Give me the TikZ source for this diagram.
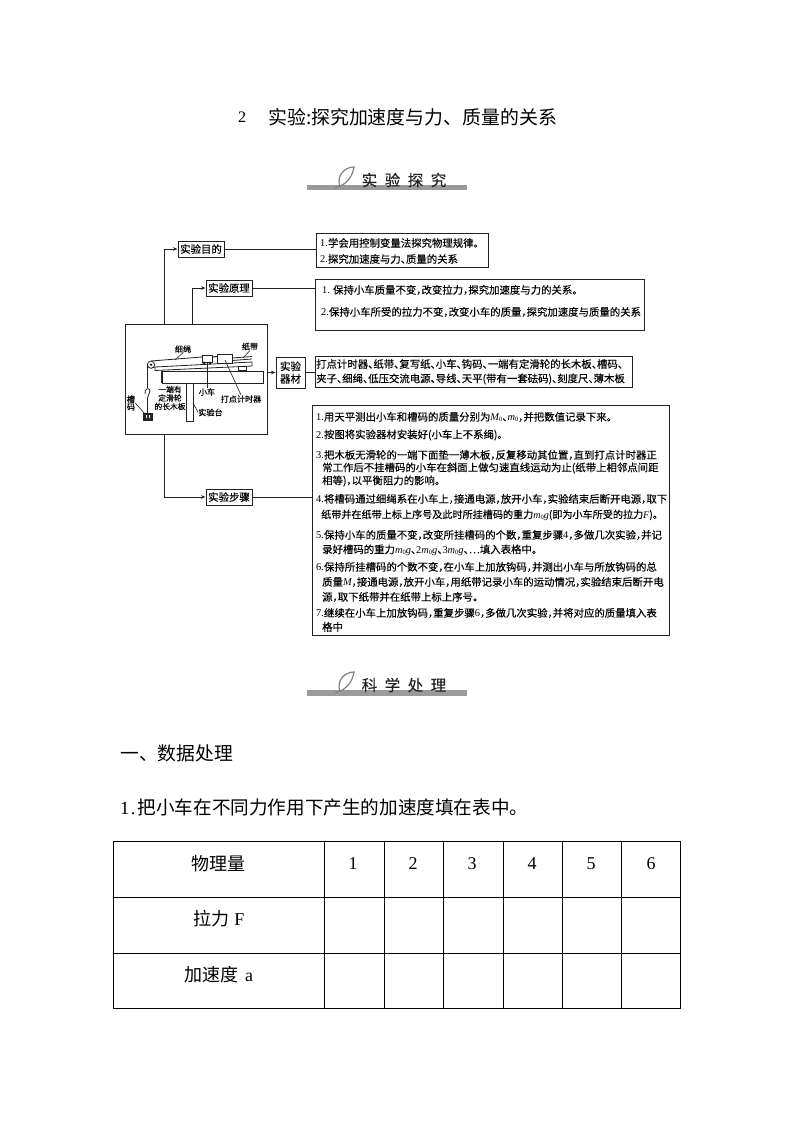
\documentclass[tikz,border=0pt]{standalone}
\usepackage{fontspec}
\usetikzlibrary{arrows.meta}
\setmainfont{Noto Sans CJK SC}
\newfontfamily\flowf{Noto Sans CJK SC}[RawFeature=+halt,FakeBold=0.15]
\newfontfamily\banf{Noto Sans CJK SC}[FakeBold=0.25]
\newfontfamily\latf{Liberation Serif}
\newcommand{\lt}[1]{{\latf #1}}
\newcommand{\vr}[1]{{\latf\itshape #1}}
\newcommand{\nought}{\raisebox{-1.2pt}{\latf\fontsize{6.5}{6.5}\selectfont 0}}
\newcommand{\fs}[1]{\fontsize{#1}{#1}\selectfont}
\definecolor{ink}{HTML}{222222}
\definecolor{barg}{HTML}{9A9A9A}
\tikzset{
  x=1pt,y=-1pt,
  flowbox/.style={draw=ink,line width=1pt,fill=white,inner sep=0pt,font=\flowf\fs{10.4}},
  tbox/.style={draw=ink,line width=1pt,fill=white,inner sep=0pt},
  line/.style={draw=ink,line width=0.9pt},
  arr/.style={line,-{Stealth[length=4.5pt,width=3.5pt]}},
  lbl/.style={anchor=west,inner sep=0pt,font=\flowf\fs{10.4},text=black},
  tiny/.style={inner sep=0pt,font=\flowf\fs{8.1},align=center,text=black},
  lead/.style={draw=ink,line width=0.6pt},
  app/.style={draw=ink,line width=0.8pt},
  bar/.style={fill=barg,draw=none},
  leaf/.style={draw=gray,line width=1.2pt,fill=white},
  bantxt/.style={inner sep=0pt,font=\banf\fs{15.5},text=ink},
  cell/.style={inner sep=0pt,font=\fs{17.6},text=black},
  grid/.style={draw=black,line width=0.7pt},
  head/.style={anchor=west,inner sep=0pt,text=black}
}
\begin{document}
\begin{tikzpicture}
\useasboundingbox (0,0) rectangle (794,1123);
\fill[white] (0,0) rectangle (794,1123);

% title
\node[head,font=\latf\fs{16}] (tn) at (238,117) {2};
\node[head,font=\fs{18.9}] (tt) at (268,117) {实验:探究加速度与力、质量的关系};

% banner 1
\fill[bar] (307,185) rectangle (467,190.5);
\draw[leaf] (335,188) .. controls (343,186) and (352,180) .. (354,167) .. controls (345,167) and (336,175) .. (340,187);
\node[bantxt] (b1) at (404,180) {实\hspace{7.5pt}验\hspace{7.5pt}探\hspace{7.5pt}究};

% flow boxes
\node[flowbox,minimum width=46pt,minimum height=16pt] (goal) at (201,249) {实验目的};
\node[flowbox,minimum width=46pt,minimum height=16pt] (prin) at (229,288) {实验原理};
\node[flowbox,minimum width=46pt,minimum height=16pt] (step) at (229,497) {实验步骤};
\node[flowbox,minimum width=29pt,minimum height=31pt,align=center] (equip) at (290.5,372.5) {\fs{10.5}实验\\[2pt]\fs{10.5}器材};
\node[tbox,minimum width=142pt,minimum height=110pt] (img) at (196,379) {};
\node[tbox,minimum width=172pt,minimum height=33pt] (bx1) at (402,250.5) {};
\node[tbox,minimum width=329pt,minimum height=51pt] (bx2) at (479.5,304.5) {};
\node[tbox,minimum width=317pt,minimum height=31pt] (bx3) at (473.5,371.5) {};
\node[tbox,minimum width=357pt,minimum height=230pt] (bx4) at (490.5,520) {};

% connectors
\draw[arr] ([xshift=40pt]img.north west) |- (goal.west);
\draw[arr] ([xshift=68pt]img.north west) |- (prin.west);
\draw[arr] ([xshift=40pt]img.south west) |- (step.west);
\draw[arr] (img.east |- equip.west) -- (equip.west);
\draw[line] (goal.east) -- (goal.east -| bx1.west);
\draw[line] (prin.east) -- (prin.east -| bx2.west);
\draw[line] (equip.east) -- (equip.east -| bx3.west);
\draw[line] (step.east) -- (step.east -| bx4.west);

% box texts
\node[lbl] (a1) at (320,243) {\lt{1.}学会用控制变量法探究物理规律。};
\node[lbl] (a2) at (320,259) {\lt{2.}探究加速度与力、质量的关系};
\node[lbl] (p1) at (322,290) {\lt{1.} 保持小车质量不变，改变拉力，探究加速度与力的关系。};
\node[lbl] (p2) at (321,312) {\lt{2.}保持小车所受的拉力不变，改变小车的质量，探究加速度与质量的关系};
\node[lbl] (e1) at (316,364) {打点计时器、纸带、复写纸、小车、钩码、一端有定滑轮的长木板、槽码、};
\node[lbl] (e2) at (316,379) {夹子、细绳、低压交流电源、导线、天平(带有一套砝码)、刻度尺、薄木板};
\node[lbl] (s1) at (316,417) {\lt{1.}用天平测出小车和槽码的质量分别为\vr{M}\nought、\vr{m}\nought，并把数值记录下来。};
\node[lbl] (s2) at (316,435) {\lt{2.}按图将实验器材安装好(小车上不系绳)。};
\node[lbl] (s3) at (316,455) {\lt{3.}把木板无滑轮的一端下面垫一薄木板，反复移动其位置，直到打点计时器正};
\node[lbl] (s3b) at (322,468) {常工作后不挂槽码的小车在斜面上做匀速直线运动为止(纸带上相邻点间距};
\node[lbl] (s3c) at (322,481) {相等)，以平衡阻力的影响。};
\node[lbl] (s4) at (316,499) {\lt{4.}将槽码通过细绳系在小车上，接通电源，放开小车，实验结束后断开电源，取下};
\node[lbl,font=\flowf\fs{10.1}] (s4b) at (321,515) {纸带并在纸带上标上序号及此时所挂槽码的重力\vr{m}\nought\vr{g}(即为小车所受的拉力\vr{F})。};
\node[lbl] (s5) at (316,535) {\lt{5.}保持小车的质量不变，改变所挂槽码的个数，重复步骤\lt{4}，多做几次实验，并记};
\node[lbl] (s5b) at (322,550) {录好槽码的重力\vr{m}\nought\vr{g}、\lt{2}\vr{m}\nought\vr{g}、\lt{3}\vr{m}\nought\vr{g}、…填入表格中。};
\node[lbl] (s6) at (316,567) {\lt{6.}保持所挂槽码的个数不变，在小车上加放钩码，并测出小车与所放钩码的总};
\node[lbl] (s6b) at (322,582) {质量\vr{M}，接通电源，放开小车，用纸带记录小车的运动情况，实验结束后断开电};
\node[lbl] (s6c) at (322,597) {源，取下纸带并在纸带上标上序号。};
\node[lbl] (s7) at (316,613) {\lt{7.}继续在小车上加放钩码，重复步骤\lt{6}，多做几次实验，并将对应的质量填入表};
\node[lbl] (s7b) at (322,627) {格中};

% apparatus
\draw[app] (162,371) rectangle (263,383);
\draw[app] (186,383) rectangle (193,421);
\draw[app] (155,367) -- (252,362) -- (252,366) -- (155,370.5) -- cycle;
\draw[app] (238,366.5) rectangle (246,370.5);
\draw[app] (151,361) -- (202,357);
\draw[app,line width=1pt] (212,357) -- (217,356.5);
\draw[app] (232,358) -- (252,356.5);
\draw[app] (232,360.5) -- (252,359);
\draw[app,fill=white] (202,355) rectangle (212,362);
\draw[app,fill=ink] (204,363) circle (1pt) (210,363) circle (1pt);
\draw[app,fill=white] (217,354) rectangle (232,363);
\draw[app] (155,367) -- (151,368);
\draw[app,fill=white] (151,364.7) circle (3.6pt);
\fill[ink] (151,364.7) circle (1.3pt);
\draw[app] (147.5,365) -- (147.5,388);
\draw[app] (145,394) .. controls (144,388) and (150,387) .. (150,391) .. controls (150,394) and (147.5,395) .. (147.5,398) -- (147.5,413);
\draw[app,fill=ink] (143.5,413) rectangle (152,420);
\fill[white] (146,415) rectangle (147,418) (149,415) rectangle (150,418);

% apparatus labels
\node[tiny] (rope) at (183,349) {细绳};
\node[tiny] (tape) at (250,346.5) {纸带};
\node[tiny,font=\flowf\fs{7.8}] (board) at (170,398) {一端有\\[0.7pt]定滑轮\\[0.7pt]的长木板};
\node[tiny] (cart) at (207,392) {小车};
\node[tiny] (timer) at (241,399) {打点计时器};
\node[tiny] (stage) at (210.5,412.5) {实验台};
\node[tiny] (code) at (131,403) {槽\\[-0.5pt]码};
\coordinate (rp) at (175,360);
\coordinate (tp) at (243,358);
\coordinate (bp) at (161,371);
\coordinate (bq) at (161,383);
\coordinate (cp) at (207,362);
\coordinate (tm) at (225,360);
\coordinate (sp) at (193,403);
\coordinate (wp) at (145,414);
\draw[lead] (rope.south) -- (rp);
\draw[lead] (tape.south) -- (tp);
\draw[lead] (bp) -- (bq);
\draw[lead] (cp) -- (cart.north);
\draw[lead] (tm) -- (timer.north);
\draw[lead] (sp) -- (stage.west);
\draw[lead] (code.east) -- (wp);

% banner 2
\fill[bar] (307,690) rectangle (467,695.5);
\draw[leaf] (335,693) .. controls (343,691) and (352,685) .. (354,672) .. controls (345,672) and (336,680) .. (340,692);
\node[bantxt] (b2) at (404,685) {科\hspace{7.5pt}学\hspace{7.5pt}处\hspace{7.5pt}理};

% section text
\node[head,font=\fs{18.8}] (h1) at (120,753) {一、数据处理};
\node[head,font=\fs{18.6}] (h2) at (120,807) {\makebox[17.5pt][l]{\lt{1\hspace{1.5pt}.}}把小车在不同力作用下产生的加速度填在表中。};

% table
\draw[grid] (113,841) rectangle (680,1008);
\draw[grid] (113,897) -- (680,897) (113,953) -- (680,953);
\foreach \x in {324,384,443,503,562,621} \draw[grid] (\x,841) -- (\x,1008);
\node[cell,font=\fs{18}] (c0) at (218.5,864) {物理量};
\node[cell,font=\fs{18}] (c1) at (219,919) {拉力\hspace{5pt}\lt{F}};
\node[cell,font=\fs{18}] (c2) at (218.5,975) {加速度\hspace{7pt}\lt{a}};
\node[cell,font=\latf\fs{18}] (n1) at (353,864) {1};
\node[cell,font=\latf\fs{18}] (n2) at (413,864) {2};
\node[cell,font=\latf\fs{18}] (n3) at (472,864) {3};
\node[cell,font=\latf\fs{18}] (n4) at (532,864) {4};
\node[cell,font=\latf\fs{18}] (n5) at (591,864) {5};
\node[cell,font=\latf\fs{18}] (n6) at (651,864) {6};
\end{tikzpicture}
\end{document}
